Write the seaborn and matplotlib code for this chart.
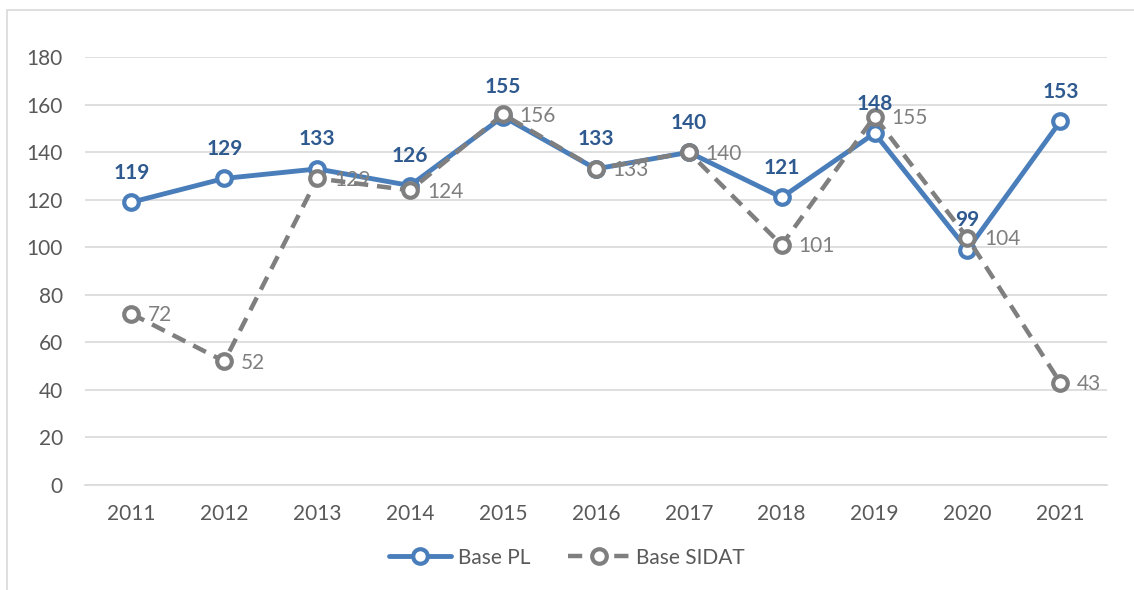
import pandas as pd
import matplotlib.pyplot as plt
import seaborn as sns
from matplotlib.patches import Rectangle

# ===============================
# DATA
# ===============================
years = [2011, 2012, 2013, 2014, 2015, 2016, 2017, 2018, 2019, 2020, 2021]
base_pl = [119, 129, 133, 126, 155, 133, 140, 121, 148, 99, 153]
base_sidat = [72, 52, 129, 124, 156, 133, 140, 101, 155, 104, 43]
yticks = [0, 20, 40, 60, 80, 100, 120, 140, 160, 180]

BLUE = '#4A7EBB'
BLUE_TXT = '#2F5A8F'
GREY = '#7F7F7F'
TICK = '#595959'

df = pd.DataFrame({'year': years, 'Base PL': base_pl, 'Base SIDAT': base_sidat})

# ===============================
# PLOT
# ===============================
sns.set_style('white')
plt.rcParams['font.family'] = ['Lato', 'DejaVu Sans']
FS = 15

fig = plt.figure(figsize=(11.34, 5.9), dpi=100)
ax = fig.add_axes([0.075, 0.178, 0.901, 0.725])

# outer chart border
fig.patches.append(Rectangle((0.006, -0.02), 1.2, 1.003, transform=fig.transFigure,
                             fill=False, edgecolor='#D9D9D9', linewidth=1.2))

sns.lineplot(data=df, x='year', y='Base PL', ax=ax, color=BLUE, linewidth=3.5,
             marker='o', markersize=10.5, markerfacecolor='white',
             markeredgecolor=BLUE, markeredgewidth=3, label='Base PL', zorder=3)
sns.lineplot(data=df, x='year', y='Base SIDAT', ax=ax, color=GREY, linewidth=3.2,
             linestyle=(0, (3.2, 2.0)), marker='o', markersize=10.5,
             markerfacecolor='white', markeredgecolor=GREY, markeredgewidth=3,
             label='Base SIDAT', zorder=4)

for x, v in zip(years, base_pl):
    ax.annotate(str(v), (x, v), xytext=(0, 14), textcoords='offset points',
                ha='center', va='bottom', fontsize=FS, fontweight='bold',
                color=BLUE_TXT, zorder=5)
for x, v in zip(years, base_sidat):
    ax.annotate(str(v), (x, v), xytext=(12, -1), textcoords='offset points',
                ha='left', va='center', fontsize=FS, color=GREY, zorder=5)

ax.set_xlim(2010.5, 2021.5)
ax.set_ylim(0, 180)
ax.set_yticks(yticks)
ax.set_xticks(years)
ax.set_xticklabels([str(y) for y in years])
ax.tick_params(axis='both', colors=TICK, labelsize=FS, length=0)
ax.tick_params(axis='x', pad=14)
ax.tick_params(axis='y', pad=16)
ax.grid(axis='y', color='#D9D9D9', linewidth=1.2)
ax.set_axisbelow(True)
for s in ['top', 'right', 'left']:
    ax.spines[s].set_visible(False)
ax.spines['bottom'].set_color('#D9D9D9')
ax.spines['bottom'].set_linewidth(1.2)
ax.set_xlabel('')
ax.set_ylabel('')

leg = ax.legend(loc='center', bbox_to_anchor=(0.5, 0.055), bbox_transform=fig.transFigure,
                ncol=2, frameon=False, fontsize=FS, handlelength=3.0,
                columnspacing=1.8, handletextpad=0.3)
for t in leg.get_texts():
    t.set_color(TICK)

fig.savefig('out.png', dpi=100)
